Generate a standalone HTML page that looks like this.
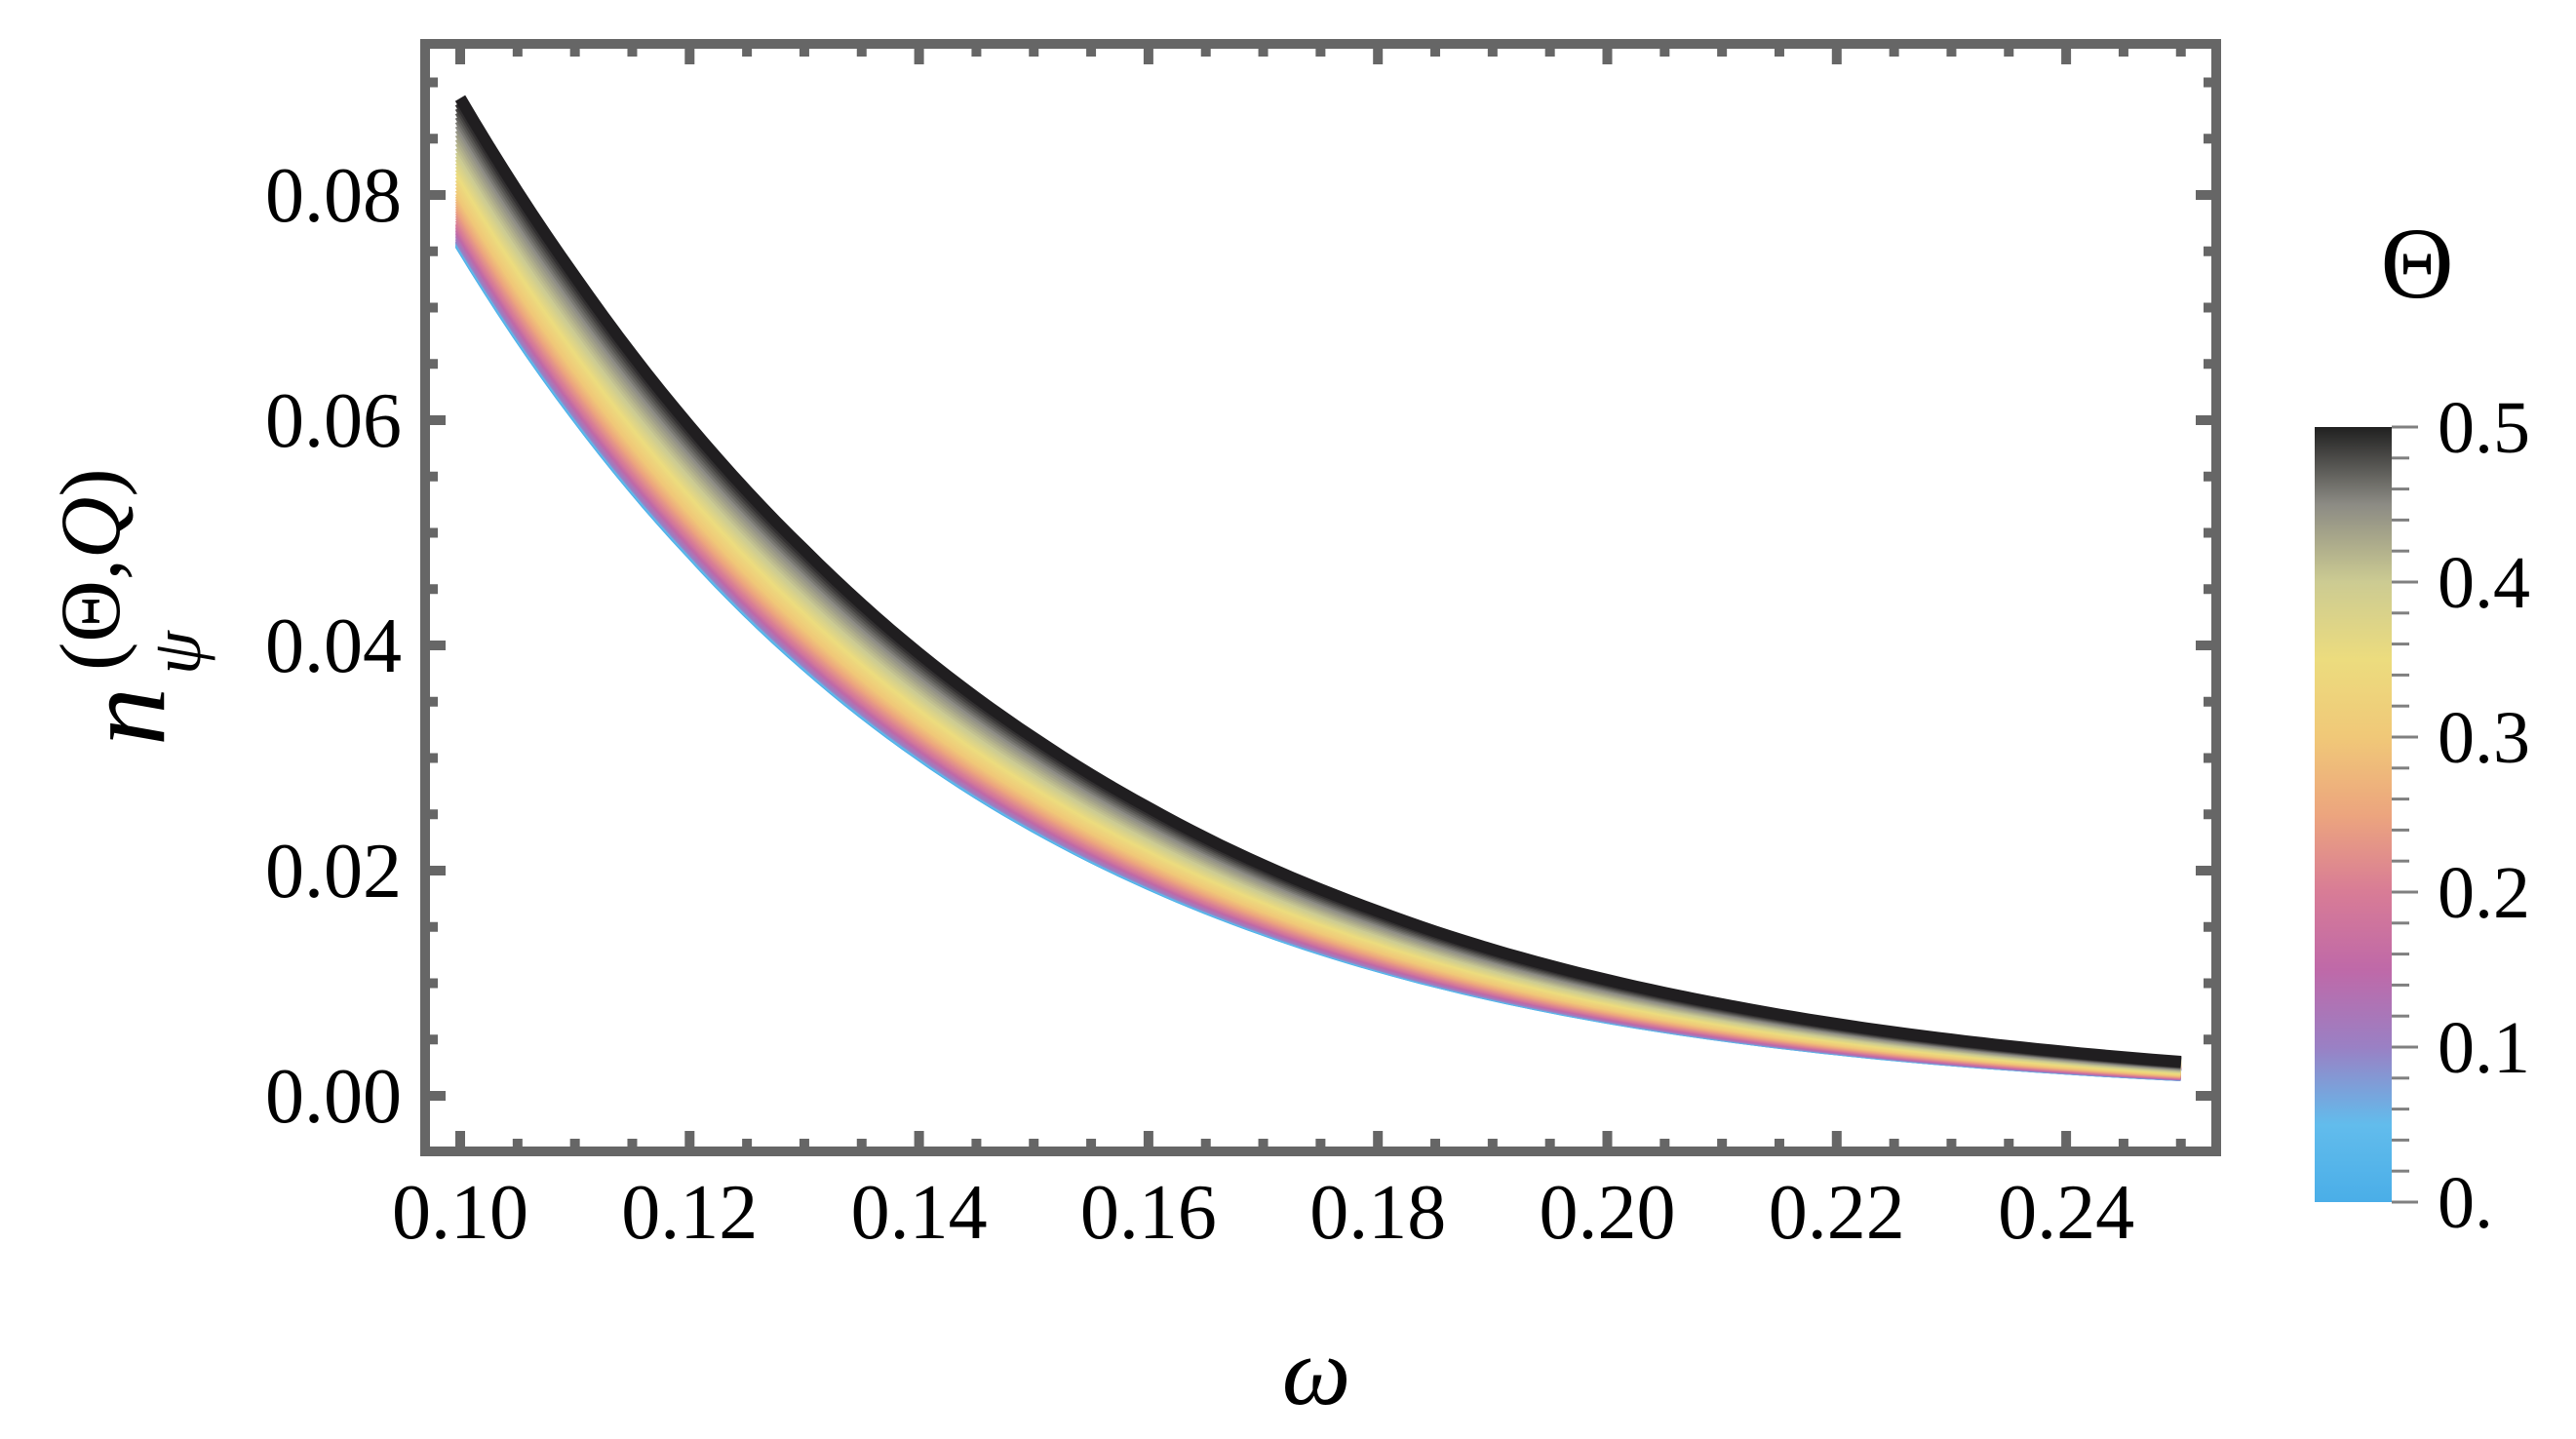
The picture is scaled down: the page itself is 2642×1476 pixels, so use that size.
<!DOCTYPE html>
<html><head><meta charset="utf-8"><style>
html,body{margin:0;padding:0;background:#fff;}
svg{display:block;}
text{font-family:"Liberation Serif",serif;fill:#000;}
</style></head><body>
<svg id="chart" width="2642" height="1476" viewBox="0 0 2642 1476" xmlns="http://www.w3.org/2000/svg">
<defs>
<linearGradient id="cbgrad" x1="0" y1="1" x2="0" y2="0">
<stop offset="0" stop-color="#4aaee8"/><stop offset="0.1" stop-color="#62bcec"/>
<stop offset="0.2" stop-color="#9a80c4"/><stop offset="0.3" stop-color="#bf69a8"/>
<stop offset="0.4" stop-color="#d87c96"/><stop offset="0.5" stop-color="#eca57e"/>
<stop offset="0.6" stop-color="#f0c878"/><stop offset="0.7" stop-color="#ecdc7e"/>
<stop offset="0.8" stop-color="#cccb92"/><stop offset="0.9" stop-color="#8c8b84"/>
<stop offset="1" stop-color="#202020"/>
</linearGradient>
<clipPath id="plotclip"><rect x="441" y="50" width="1827" height="1127"/></clipPath>
</defs>
<g id="curves" clip-path="url(#plotclip)"></g>
<g id="frame"></g>
<g id="xaxis"></g>
<g id="yaxis"></g>
<text x="1350" y="1440" font-size="100" font-style="italic" text-anchor="middle">ω</text>
<g>
<text transform="translate(168,765) rotate(-90)" font-size="120" font-style="italic">n</text>
<text transform="translate(205,692) rotate(-90)" font-size="72" font-style="italic">ψ</text>
<text transform="translate(122,688) rotate(-90)" font-size="88">(Θ,<tspan font-style="italic">Q</tspan>)</text>
</g>
<g id="colorbar">
<text x="2479" y="305" font-size="104" text-anchor="middle">Θ</text>
<rect x="2374" y="438" width="79" height="795" fill="url(#cbgrad)"/>
</g>
</svg>
<script>
const omega = [0.10,0.11,0.12,0.13,0.14,0.15,0.16,0.17,0.18,0.19,0.20,0.21,0.22,0.23,0.24,0.25];
const nTheta0 = [0.0756,0.0605,0.0483,0.0383,0.0303,0.0239,0.0188,0.01473,0.01148,0.00892,0.00691,0.00534,0.00411,0.00314,0.00240,0.00182];
const nTheta05 = [0.0886,0.0728,0.0595,0.0485,0.0393,0.0318,0.0256,0.0205,0.0164,0.0130,0.0103,0.00815,0.00640,0.00501,0.00391,0.00303];
const thetaLevels = [0,0.1,0.2,0.3,0.4,0.5];
const levelFraction = [0,0.04,0.16,0.36,0.64,1];
const xTicks = [0.10,0.12,0.14,0.16,0.18,0.20,0.22,0.24];
const xTickLabels = ["0.10","0.12","0.14","0.16","0.18","0.20","0.22","0.24"];
const yTicks = [0,0.02,0.04,0.06,0.08];
const yTickLabels = ["0.00","0.02","0.04","0.06","0.08"];
const cbTicks = [0,0.1,0.2,0.3,0.4,0.5];
const cbTickLabels = ["0.","0.1","0.2","0.3","0.4","0.5"];

const NS="http://www.w3.org/2000/svg";
const X = v => 472 + (v-0.10)/0.02*235.3;
const Y = v => 1124 - v/0.02*231;
const CB = t => 1233 - t/0.5*795;
function mk(tag, attrs, parent){const e=document.createElementNS(NS,tag);for(const k in attrs)e.setAttribute(k,attrs[k]);parent.appendChild(e);return e;}
const stops=[[0,[74,174,232]],[0.05,[98,188,236]],[0.1,[154,128,196]],[0.15,[191,105,168]],[0.2,[216,124,150]],[0.25,[236,165,126]],[0.3,[240,200,120]],[0.35,[236,220,126]],[0.4,[204,203,146]],[0.45,[140,139,132]],[0.5,[32,30,32]]];
function cmap(t){for(let i=0;i<stops.length-1;i++){const a=stops[i],b=stops[i+1];if(t<=b[0]){const f=(t-a[0])/(b[0]-a[0]);const c=a[1].map((v,j)=>Math.round(v+(b[1][j]-v)*f));return `rgb(${c})`;}}return 'rgb(32,30,32)';}
function fracFor(t){for(let i=0;i<thetaLevels.length-1;i++){if(t<=thetaLevels[i+1]){const f=(t-thetaLevels[i])/(thetaLevels[i+1]-thetaLevels[i]);return levelFraction[i]+(levelFraction[i+1]-levelFraction[i])*f;}}return 1;}

const cg=document.getElementById('curves');
const N=60;
for(let k=0;k<=N;k++){
  const t=0.5*k/N, f=fracFor(t);
  const pts=[];
  for(let i=0;i<omega.length-1;i++){
    for(let s=0;s<8;s++){
      const u=s/8, w=omega[i]+(omega[i+1]-omega[i])*u;
      const l0=Math.log(nTheta0[i])*(1-u)+Math.log(nTheta0[i+1])*u;
      const l1=Math.log(nTheta05[i])*(1-u)+Math.log(nTheta05[i+1])*u;
      const v=Math.exp(l0)*(1-f)+Math.exp(l1)*f;
      pts.push(X(w).toFixed(1)+','+Y(v).toFixed(1));
    }
  }
  const last=omega.length-1;
  pts.push(X(omega[last]).toFixed(1)+','+Y(nTheta0[last]*(1-f)+nTheta05[last]*f).toFixed(1));
  const p=mk('polyline',{points:pts.join(' '),fill:'none',stroke:cmap(t),'stroke-width':12},cg);
  
  
}

const fr=document.getElementById('frame');
const fc='#666666';
mk('rect',{x:436,y:45,width:1837,height:1136,fill:'none',stroke:fc,'stroke-width':10},fr);
const xa=document.getElementById('xaxis');
for(let v=0.10;v<=0.2501;v+=0.005){
  const major=Math.abs((v*100)%2)<0.01||Math.abs((v*100)%2-2)<0.01;
  const len=major?16:8;
  mk('rect',{x:X(v)-5,y:1176-len,width:10,height:len,fill:fc},xa);
  mk('rect',{x:X(v)-5,y:50,width:10,height:len,fill:fc},xa);
}
xTicks.forEach((v,i)=>{const t=mk('text',{x:X(v),y:1270,'font-size':80,'text-anchor':'middle'},xa);t.textContent=xTickLabels[i];
});
const ya=document.getElementById('yaxis');
for(let v=-0.005;v<=0.0901;v+=0.005){
  const major=Math.abs(Math.round(v*1000)%20)===0;
  const len=major?16:8;
  if(Y(v)<52||Y(v)>1176)continue;
  mk('rect',{x:441,y:Y(v)-5,width:len,height:10,fill:fc},ya);
  mk('rect',{x:2268-len,y:Y(v)-5,width:len,height:10,fill:fc},ya);
}
yTicks.forEach((v,i)=>{const t=mk('text',{x:412,y:Y(v)+27,'font-size':80,'text-anchor':'end'},ya);t.textContent=yTickLabels[i];
});
const cb=document.getElementById('colorbar');
for(let k=0;k<=25;k++){const t=k*0.02;const major=k%5===0;
  mk('rect',{x:2453,y:CB(t)-1.5,width:major?27:18,height:3,fill:'#808080'},cb);}
cbTicks.forEach((v,i)=>{const t=mk('text',{x:2500,y:CB(v)+26,'font-size':76},cb);t.textContent=cbTickLabels[i];
});
</script>
</body></html>
